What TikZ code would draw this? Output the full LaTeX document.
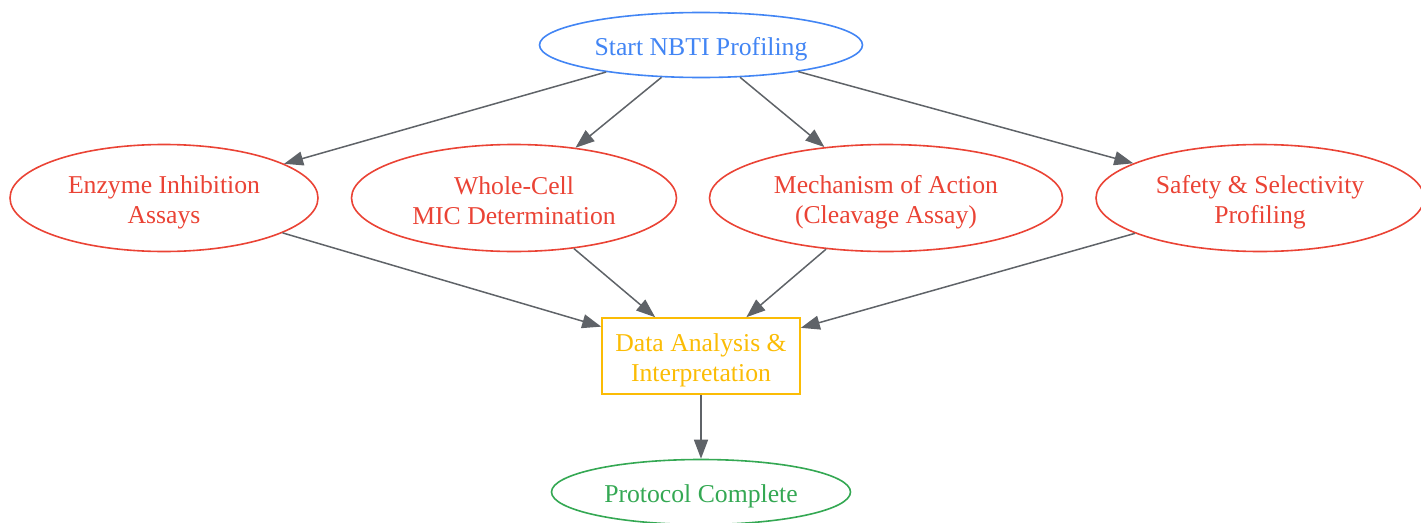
\documentclass[tikz,border=0pt]{standalone}
\usepackage{fontspec}
\setmainfont{Liberation Serif}
\usetikzlibrary{shapes.geometric,arrows.meta}
\definecolor{gblue}{HTML}{4285F4}
\definecolor{gred}{HTML}{EA4335}
\definecolor{gyellow}{HTML}{FBBC05}
\definecolor{ggreen}{HTML}{34A853}
\definecolor{gedge}{HTML}{5F6368}
\newcommand\myTop{\rule{0pt}{27pt}}
\newcommand\myBot{\rule[-5pt]{0pt}{5pt}}
\begin{document}
\begin{tikzpicture}[x=1pt,y=-1pt,
  every node/.style={font=\fontsize{25.7}{30}\selectfont, align=center, line width=1.6pt, inner sep=0pt},
  oval/.style={draw, ellipse},
  startnode/.style={oval, draw=gblue, text=gblue},
  stepnode/.style={oval, draw=gred, text=gred, minimum height=107pt},
  datanode/.style={draw=gyellow, text=gyellow, rectangle, minimum width=198pt, minimum height=76pt},
  endnode/.style={oval, draw=ggreen, text=ggreen},
  conn/.style={draw=gedge, line width=1.5pt, -{Triangle[length=19pt,width=14pt]}}
]
\useasboundingbox (0,0) rectangle (1421,522);
\node[startnode, minimum width=323pt, minimum height=65pt] (start) at (701,45) {\myTop Start NBTI Profiling\myBot};
\node[stepnode, minimum width=308pt] (enz) at (164,198) {\myTop Enzyme Inhibition\\Assays\myBot};
\node[stepnode, minimum width=325pt] (mic) at (514,198) {\myTop Whole-Cell\\MIC Determination\myBot};
\node[stepnode, minimum width=353pt] (moa) at (886,198) {\myTop Mechanism of Action\\(Cleavage Assay)\myBot};
\node[stepnode, minimum width=328pt] (safe) at (1260,198) {\myTop Safety \& Selectivity\\Profiling\myBot};
\node[datanode] (data) at (701,356) {\myTop Data Analysis \&\\Interpretation\myBot};
\node[endnode, minimum width=299pt, minimum height=65pt] (done) at (701,492) {\myTop Protocol Complete\myBot};
\draw[conn] (start) -- (enz);
\draw[conn] (start) -- (mic);
\draw[conn] (start) -- (moa);
\draw[conn] (start) -- (safe);
\draw[conn] (enz) -- (data);
\draw[conn] (mic) -- (data);
\draw[conn] (moa) -- (data);
\draw[conn] (safe) -- (data);
\draw[conn] (data) -- (done);
\end{tikzpicture}
\end{document}
